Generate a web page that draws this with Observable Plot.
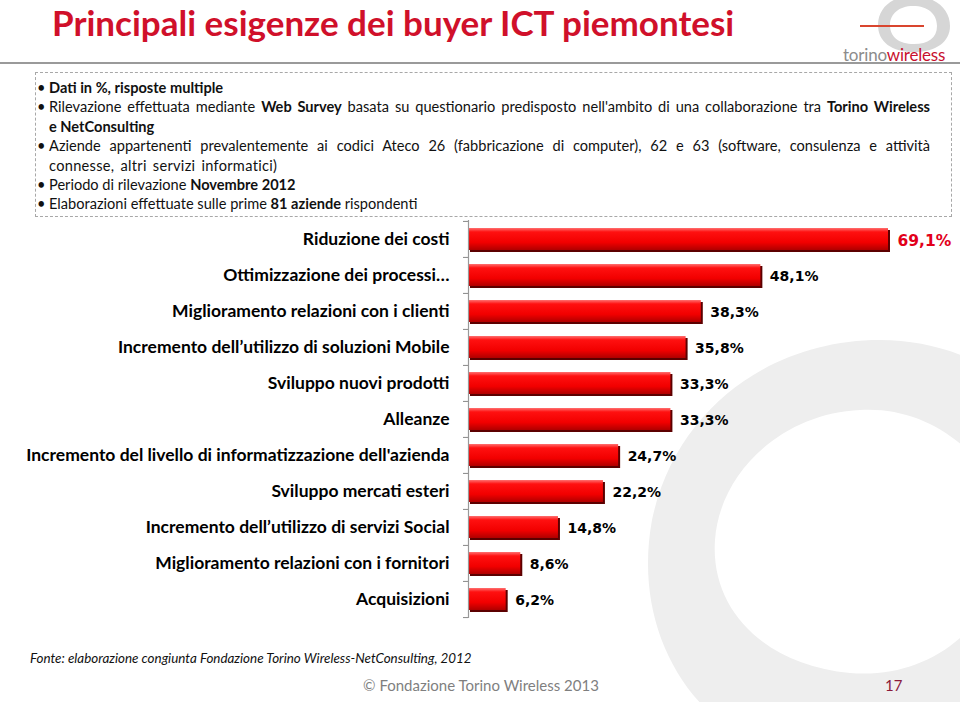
<!DOCTYPE html>
<html>
<head>
<meta charset="utf-8">
<script src="https://cdn.jsdelivr.net/npm/d3@7"></script>
<script src="https://cdn.jsdelivr.net/npm/@observablehq/plot@0.6"></script>
<style>
  html, body { margin: 0; padding: 0; background: #fff; }
  #page { position: relative; width: 960px; height: 702px; overflow: hidden; font-family: Lato, "Open Sans", sans-serif; }
  #bg { position: absolute; left: 0; top: 0; }
  #title { position: absolute; left: 52px; top: 1px; font-size: 35px; font-weight: bold; color: #d0102a; white-space: nowrap; letter-spacing: 0px; }
  #hline { position: absolute; left: 0; top: 62px; width: 960px; height: 2px; background: #9a9a9a; }
  #logo { position: absolute; left: 843px; top: 44px; font-size: 17px; color: #8c8c8c; white-space: nowrap; letter-spacing: -0.2px; }
  #logo span { color: #c8102e; }
  #box { position: absolute; left: 35px; top: 72px; width: 917px; height: 145px; border: 1px dashed #a8a8a8; box-sizing: border-box; }
  #notes { position: absolute; left: 49px; top: 78px; width: 881px; font-size: 14.6px; color: #111; line-height: 19.4px; }
  #notes .ln { position: relative; white-space: nowrap; }
  #notes .j { text-align: justify; text-align-last: justify; white-space: normal; }
  #notes .w { word-spacing: 2px; letter-spacing: 0.3px; }
  #notes .b::before { content: "•"; position: absolute; left: -12px; }
  #chart { position: absolute; left: 0; top: 210px; }
  #chart text.lbl { text-shadow: 1px 1px 1px rgba(0,0,0,0.3); }
  #fonte { position: absolute; left: 30px; top: 650px; font-size: 13.4px; font-style: italic; color: #111; white-space: nowrap; }
  #copy { position: absolute; left: 0; width: 962px; text-align: center; top: 676px; font-size: 15px; color: #7f7f7f; white-space: nowrap; }
  #pnum { position: absolute; left: 885px; top: 676px; font-size: 15px; color: #8b1a3a; }
</style>
</head>
<body>
<div id="page">
  <svg id="bg" width="960" height="702">
    <path fill="#eeeeee" fill-rule="evenodd"
      d="M 880 340 C 1010 340 1110 450 1100 570 C 1090 700 960 790 830 770 C 700 750 630 640 652 520 C 675 410 770 340 880 340 Z
         M 860 410 C 940 405 1010 470 1005 545 C 1000 625 930 680 850 673 C 765 665 710 610 715 540 C 720 470 785 413 860 410 Z"/>
    <path fill="#d6d6d6" fill-rule="evenodd"
      d="M 912 -4 C 937 -4 950 10 950 26 C 950 42 936 52 914 52 C 892 52 878 42 878 25 C 878 8 892 -4 912 -4 Z
         M 913 6 C 928 6 937 14 937 26 C 937 38 928 44 914 44 C 899 44 890 37 890 25 C 890 14 899 6 913 6 Z"/>
    <line x1="860" y1="26" x2="924" y2="26" stroke="#d9452e" stroke-width="2"/>
  </svg>
  <div id="title">Principali esigenze dei buyer ICT piemontesi</div>
  <div id="hline"></div>
  <div id="logo">torino<span>wireless</span></div>
  <div id="box"></div>
  <div id="notes">
    <div class="ln b"><b>Dati in %, risposte multiple</b></div>
    <div class="ln b j">Rilevazione effettuata mediante <b>Web Survey</b> basata su questionario predisposto nell'ambito di una collaborazione tra <b>Torino Wireless</b></div>
    <div class="ln"><b>e NetConsulting</b></div>
    <div class="ln b j">Aziende appartenenti prevalentemente ai codici Ateco 26 (fabbricazione di computer), 62 e 63 (software, consulenza e attività</div>
    <div class="ln w">connesse, altri servizi informatici)</div>
    <div class="ln b">Periodo di rilevazione <b>Novembre 2012</b></div>
    <div class="ln b">Elaborazioni effettuate sulle prime <b>81 aziende</b> rispondenti</div>
  </div>
  <div id="chart"></div>
  <div id="fonte">Fonte: elaborazione congiunta Fondazione Torino Wireless-NetConsulting, 2012</div>
  <div id="copy">© Fondazione Torino Wireless 2013</div>
  <div id="pnum">17</div>
</div>
<script>
const categories = [
  "Riduzione dei costi",
  "Ottimizzazione dei processi…",
  "Miglioramento relazioni con i clienti",
  "Incremento dell’utilizzo di soluzioni Mobile",
  "Sviluppo nuovi prodotti",
  "Alleanze",
  "Incremento del livello di informatizzazione dell'azienda",
  "Sviluppo mercati esteri",
  "Incremento dell’utilizzo di servizi Social",
  "Miglioramento relazioni con i fornitori",
  "Acquisizioni"
];
const values = [69.1, 48.1, 38.3, 35.8, 33.3, 33.3, 24.7, 22.2, 14.8, 8.6, 6.2];
const valueLabels = ["69,1%", "48,1%", "38,3%", "35,8%", "33,3%", "33,3%", "24,7%", "22,2%", "14,8%", "8,6%", "6,2%"];

const data = categories.map((c, i) => ({category: c, value: values[i], label: valueLabels[i], top: i === 0}));

const height = 418, marginTop = 10, marginBottom = 10;
const step = (height - marginTop - marginBottom) / categories.length;

const defs = () => {
  const g = document.createElementNS("http://www.w3.org/2000/svg", "g");
  g.innerHTML = `<defs>
    <linearGradient id="barGrad" x1="0" y1="0" x2="0" y2="1">
      <stop offset="0" stop-color="#ff7070"/>
      <stop offset="0.18" stop-color="#ff1010"/>
      <stop offset="0.65" stop-color="#f20000"/>
      <stop offset="1" stop-color="#b00000"/>
    </linearGradient></defs>`;
  return g;
};

const chart = Plot.plot({
  width: 960,
  height,
  marginLeft: 468,
  marginRight: 72,
  marginTop,
  marginBottom,
  style: {fontFamily: "Lato, 'Open Sans', sans-serif", color: "#000", background: "transparent"},
  x: {domain: [0, 69.1], axis: null},
  y: {domain: categories, paddingInner: 0.4, paddingOuter: 0.2, label: null},
  marks: [
    defs,
    Plot.barX(data, {x: "value", y: "category", fill: "#5c0000", dx: 2, dy: 2}),
    Plot.barX(data, {x: "value", y: "category", fill: "url(#barGrad)"}),
    Plot.axisY({tickSize: 0, tickPadding: 19, fontSize: 17.5, fontWeight: "bold", className: "lbl"}),
    Plot.axisY({tickSize: 5, text: null, dy: -step / 2, stroke: "#888"}),
    Plot.axisY([categories[categories.length - 1]], {tickSize: 5, text: null, dy: step / 2, stroke: "#888"}),
    Plot.ruleX([0], {stroke: "#999", strokeWidth: 1.2}),
    Plot.text(data.filter(d => !d.top), {x: "value", y: "category", text: "label", textAnchor: "start", dx: 9, dy: 1, fontSize: 14, fontWeight: "bold", fontFamily: "'DejaVu Sans', Verdana, sans-serif", fill: "#000", className: "lbl"}),
    Plot.text(data.filter(d => d.top), {x: "value", y: "category", text: "label", textAnchor: "start", dx: 9, dy: 2, fontSize: 15.5, fontWeight: "bold", fontFamily: "'DejaVu Sans', Verdana, sans-serif", fill: "#e2001a", className: "lbl"})
  ]
});
document.getElementById("chart").appendChild(chart);
</script>
</body>
</html>
